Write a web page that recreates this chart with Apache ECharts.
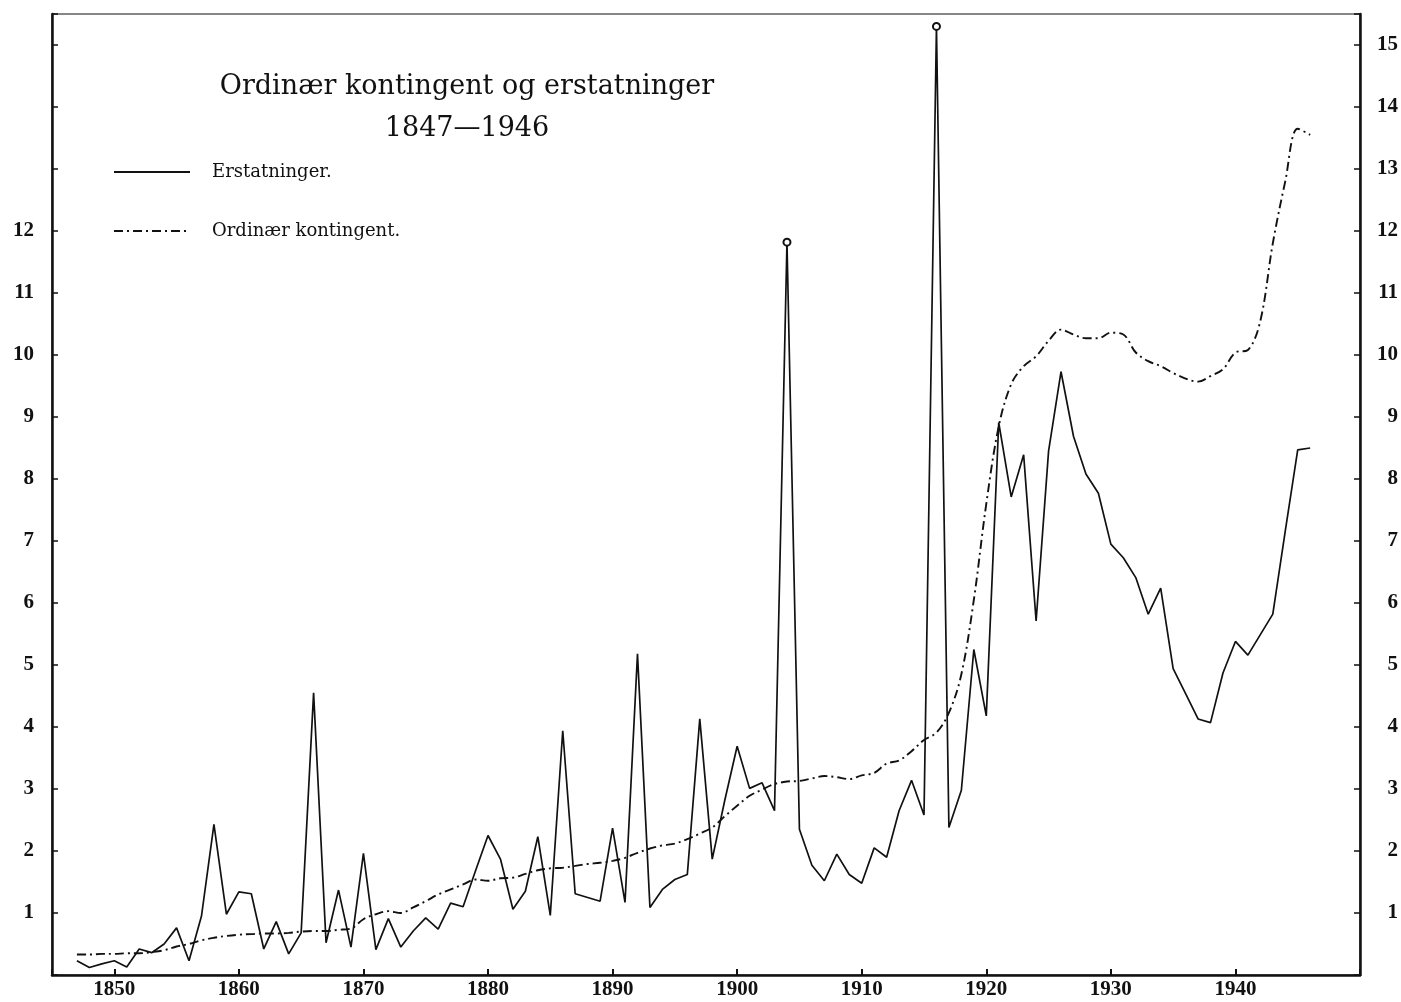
<!DOCTYPE html>
<html>
<head>
<meta charset="utf-8">
<script src="https://cdn.jsdelivr.net/npm/echarts@6/dist/echarts.min.js"></script>
<style>
html,body{margin:0;padding:0;background:#fff;}
#chart{width:1401px;height:1002px;}
</style>
</head>
<body>
<div id="chart"></div>
<script>
// ---- data ----
const startYear = 1847;
// Erstatninger 1847-1946
const erstatninger = [
  0.23, 0.12, 0.18, 0.23, 0.13, 0.42, 0.36, 0.50, 0.76, 0.23,
  0.95, 2.43, 0.98, 1.34, 1.31, 0.42, 0.86, 0.34, 0.68, 4.55,
  0.52, 1.37, 0.45, 1.96, 0.41, 0.91, 0.45, 0.71, 0.92, 0.74,
  1.16, 1.10, 1.68, 2.25, 1.87, 1.06, 1.35, 2.23, 0.96, 3.94,
  1.31, 1.25, 1.19, 2.37, 1.17, 5.18, 1.09, 1.38, 1.54, 1.62,
  4.13, 1.87, 2.81, 3.69, 3.01, 3.10, 2.65, 11.82, 2.35, 1.77,
  1.52, 1.95, 1.62, 1.48, 2.05, 1.90, 2.65, 3.14, 2.58, 15.30,
  2.38, 2.98, 5.25, 4.18, 8.91, 7.71, 8.39, 5.71, 8.45, 9.73,
  8.69, 8.08, 7.77, 6.95, 6.73, 6.41, 5.82, 6.24, 4.94, 4.54,
  4.13, 4.07, 4.87, 5.38, 5.16, 5.49, 5.82, 7.16, 8.47, 8.50
];
// Ordinær kontingent 1847-1946
const ordinaer = [
  0.33, 0.33, 0.34, 0.34, 0.35, 0.35, 0.37, 0.40, 0.46, 0.50,
  0.56, 0.60, 0.63, 0.65, 0.66, 0.67, 0.67, 0.68, 0.70, 0.71,
  0.71, 0.73, 0.75, 0.90, 0.98, 1.03, 1.00, 1.09, 1.19, 1.30,
  1.38, 1.46, 1.54, 1.52, 1.56, 1.57, 1.63, 1.69, 1.72, 1.73,
  1.76, 1.79, 1.81, 1.84, 1.89, 1.97, 2.04, 2.09, 2.12, 2.19,
  2.28, 2.38, 2.56, 2.73, 2.89, 2.99, 3.08, 3.12, 3.13, 3.17,
  3.21, 3.19, 3.16, 3.22, 3.26, 3.41, 3.46, 3.61, 3.79, 3.91,
  4.23, 4.85, 6.05, 7.60, 8.85, 9.53, 9.82, 9.98, 10.23, 10.41,
  10.33, 10.27, 10.27, 10.36, 10.33, 10.04, 9.90, 9.82, 9.71, 9.62,
  9.57, 9.66, 9.77, 10.04, 10.08, 10.55, 11.80, 12.80, 13.65, 13.55
];
const markedYears = [1904, 1916];
const xTickLabels = [1850, 1860, 1870, 1880, 1890, 1900, 1910, 1920, 1930, 1940];
const leftTickLabels = [1, 2, 3, 4, 5, 6, 7, 8, 9, 10, 11, 12];
const rightTickLabels = [1, 2, 3, 4, 5, 6, 7, 8, 9, 10, 11, 12, 13, 14, 15];
const seriesNames = ['Erstatninger.', 'Ordinær kontingent.'];
const titleText = 'Ordinær kontingent og erstatninger\n1847—1946';

// ---- build series data ----
const erstData = erstatninger.map((v, i) => {
  const yr = startYear + i;
  if (markedYears.indexOf(yr) >= 0) {
    return { value: [yr, v], symbol: 'emptyCircle', symbolSize: 7 };
  }
  return [yr, v];
});
const ordData = ordinaer.map((v, i) => [startYear + i, v]);

const ink = '#111';
const digitFont = { fontFamily: 'Liberation Serif', fontSize: 21, fontWeight: 'bold', color: ink };

const chart = echarts.init(document.getElementById('chart'), null, { renderer: 'canvas' });
chart.setOption({
  animation: false,
  backgroundColor: '#fff',
  title: {
    text: titleText,
    left: 462,
    top: 61,
    textAlign: 'center',
    textStyle: { fontFamily: 'DejaVu Serif', fontSize: 27, fontWeight: 'normal', lineHeight: 42, color: ink }
  },
  legend: {
    data: seriesNames,
    orient: 'vertical',
    left: 113,
    top: 162,
    padding: 0,
    itemWidth: 76,
    itemHeight: 20,
    itemGap: 39,
    selectedMode: false,
    itemStyle: { opacity: 0, borderWidth: 0 },
    textStyle: { fontFamily: 'DejaVu Serif', fontSize: 18, color: ink, lineHeight: 20, padding: [0, 0, 0, 17] }
  },
  grid: {
    left: 52, right: 41, top: 14, bottom: 27,
    show: true, borderColor: ink, borderWidth: 1.2, backgroundColor: 'transparent'
  },
  xAxis: {
    type: 'value',
    min: 1845, max: 1950, splitNumber: 10,
    axisLine: { show: true, lineStyle: { color: ink, width: 2.5 } },
    axisTick: { show: true, inside: true, length: 6, lineStyle: { color: ink, width: 2 } },
    splitLine: { show: false },
    axisLabel: Object.assign({
      margin: 4,
      formatter: v => (xTickLabels.indexOf(v) >= 0 ? String(v) : '')
    }, digitFont)
  },
  yAxis: [
    {
      type: 'value', position: 'left', min: 0, max: 15.5, interval: 1,
      axisLine: { show: true, lineStyle: { color: ink, width: 2.5 } },
      axisTick: { show: true, inside: true, length: 6, lineStyle: { color: ink, width: 1.5 } },
      splitLine: { show: false },
      axisLabel: Object.assign({
        margin: 18,
        formatter: v => (leftTickLabels.indexOf(v) >= 0 ? String(v) : '')
      }, digitFont)
    },
    {
      type: 'value', position: 'right', min: 0, max: 15.5, interval: 1,
      axisLine: { show: true, lineStyle: { color: ink, width: 2.5 } },
      axisTick: { show: true, inside: true, length: 6, lineStyle: { color: ink, width: 1.5 } },
      splitLine: { show: false },
      axisLabel: Object.assign({
        margin: 38, align: 'right',
        formatter: v => (rightTickLabels.indexOf(v) >= 0 ? String(v) : '')
      }, digitFont)
    }
  ],
  series: [
    {
      name: seriesNames[0],
      type: 'line',
      data: erstData,
      symbol: 'none',
      showSymbol: true,
      showAllSymbol: true,
      lineStyle: { color: ink, width: 1.7 },
      itemStyle: { color: ink, borderColor: ink, borderWidth: 1.3 },
      z: 3
    },
    {
      name: seriesNames[1],
      type: 'line',
      data: ordData,
      smooth: 0.35,
      symbol: 'none',
      lineStyle: { color: ink, width: 1.9, type: [9, 4, 2, 4] },
      itemStyle: { color: ink },
      z: 2
    }
  ]
});
</script>
</body>
</html>
